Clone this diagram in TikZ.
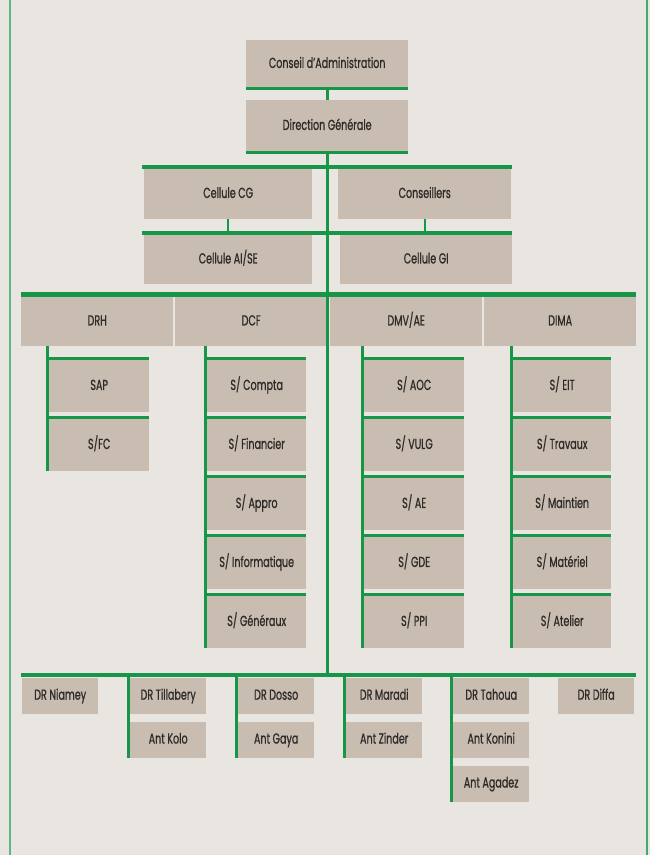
\documentclass[tikz,border=0pt]{standalone}
\usepackage{fontspec}
\newfontfamily\orgfont[FakeStretch=0.66,FakeBold=0.8]{Poppins}
\usetikzlibrary{calc,positioning}
\definecolor{orgbg}{HTML}{E9E5E0}
\definecolor{orgbox}{HTML}{C9BDB1}
\definecolor{orggreen}{HTML}{17964A}
\definecolor{orgframe}{HTML}{5DB882}
\definecolor{orgtext}{HTML}{2D2A28}

\begin{document}
\begin{tikzpicture}[x=1pt,y=-1pt,
  box/.style={fill=orgbox,text=orgtext,anchor=north west,inner sep=0pt,
    text height=10.5pt,text depth=3pt,font=\orgfont\fontsize{14.5}{16}\selectfont},
  sbox/.style={box,minimum width=100pt,minimum height=52pt},
  rbox/.style={box,minimum width=76pt,minimum height=36.5pt},
  bar/.style={draw=orggreen,line width=4.2pt},
  link/.style={draw=orggreen,line width=2.6pt},
  sublink/.style={draw=orggreen,line width=2.2pt}]
  \fill[orgbg] (0,0) rectangle (650,855);
  \useasboundingbox (0,0) rectangle (650,855);
  \draw[orgframe,line width=2.2pt] (10,0)--(10,855);
  \draw[orgframe!60!orggreen,line width=2.2pt] (647,0)--(647,855);

  % direction
  \node[box,minimum width=162pt,minimum height=48pt] (ca) at (246,40) {Conseil d’Administration};
  \node[box,minimum width=162pt,minimum height=52pt] (dg) at (246,100) {Direction Générale};
  \draw[link] (ca.south west)--(ca.south east);
  \draw[link] (dg.south west)--(dg.south east);
  \draw[link] (ca.south)--(dg.north);

  % cellules
  \node[box,minimum width=168pt,minimum height=50pt] (cg) at (144,169) {Cellule CG};
  \node[box,minimum width=173pt,minimum height=50pt] (cons) at (338,169) {Conseillers};
  \node[box,minimum width=168pt,minimum height=49pt] (aise) at (144,235) {Cellule AI/SE};
  \node[box,minimum width=172pt,minimum height=49pt] (gi) at (340,235) {Cellule GI};
  \draw[bar] ($(cg.north west)+(-2,-2)$)--($(cons.north east)+(1,-2)$);
  \draw[bar] ($(aise.north west)+(-2,-2)$)--($(gi.north east)+(0,-2)$);
  \draw[sublink] (cg.south)--(aise.north);
  \draw[sublink] (cons.south)--(gi.north -| cons.south);

  % directions centrales
  \foreach \n/\x/\t in {drh/21/DRH,dcf/175/DCF,dmv/330/{DMV/AE},dima/484/DIMA}
    \node[box,minimum width=152pt,minimum height=49pt] (\n) at (\x,297) {\t};
  \draw[bar] ($(drh.north west)+(0,-2.5)$)--($(dima.north east)+(0,-2.5)$);
  \foreach \t [count=\i] in {SAP,S/FC}
    \node[sbox] (drh\i) at (49,301+59*\i) {\t};
  \foreach \t [count=\i] in {S/ Compta,S/ Financier,S/ Appro,S/ Informatique,S/ Généraux}
    \node[sbox,minimum width=99pt] (dcf\i) at (207,301+59*\i) {\t};
  \foreach \t [count=\i] in {S/ AOC,S/ VULG,S/ AE,S/ GDE,S/ PPI}
    \node[sbox] (dmv\i) at (364,301+59*\i) {\t};
  \foreach \t [count=\i] in {S/ EIT,S/ Travaux,S/ Maintien,S/ Matériel,S/ Atelier}
    \node[sbox,minimum width=98pt] (dima\i) at (513,301+59*\i) {\t};
  \foreach \c/\k in {drh/2,dcf/5,dmv/5,dima/5}{
    \draw[link] ($(\c.south -| \c1.west)+(-1.5,0)$)--($(\c\k.south west)+(-1.5,0)$);
    \foreach \i in {1,...,\k}
      \draw[sublink] ($(\c\i.north west)+(-3,-1.5)$)--($(\c\i.north east)+(0,-1.5)$);
  }

  % directions regionales
  \coordinate (rl) at (21,675);
  \coordinate (rr) at (636,675);
  \foreach \n/\x/\t in {niamey/22/DR Niamey,till/130/DR Tillabery,dosso/238/DR Dosso,maradi/346/DR Maradi,tahoua/453/DR Tahoua,diffa/558/DR Diffa}
    \node[rbox] (\n) at (\x,677.5) {\t};
  \node[rbox,below=7pt of till] (kolo) {Ant Kolo};
  \node[rbox,below=7pt of dosso] (gaya) {Ant Gaya};
  \node[rbox,below=7pt of maradi] (zinder) {Ant Zinder};
  \node[rbox,below=7pt of tahoua] (konini) {Ant Konini};
  \node[rbox,below=7pt of konini] (agadez) {Ant Agadez};
  \draw[bar] (rl)--(rr);
  \foreach \n/\b in {till/kolo,dosso/gaya,maradi/zinder,tahoua/agadez}
    \draw[link] ($(rl -| \n.west)+(-1.5,0)$)--($(\b.south west)+(-1.5,0)$);

  % tronc
  \draw[link] (dg.south)--(dg.south |- rl);
\end{tikzpicture}
\end{document}
